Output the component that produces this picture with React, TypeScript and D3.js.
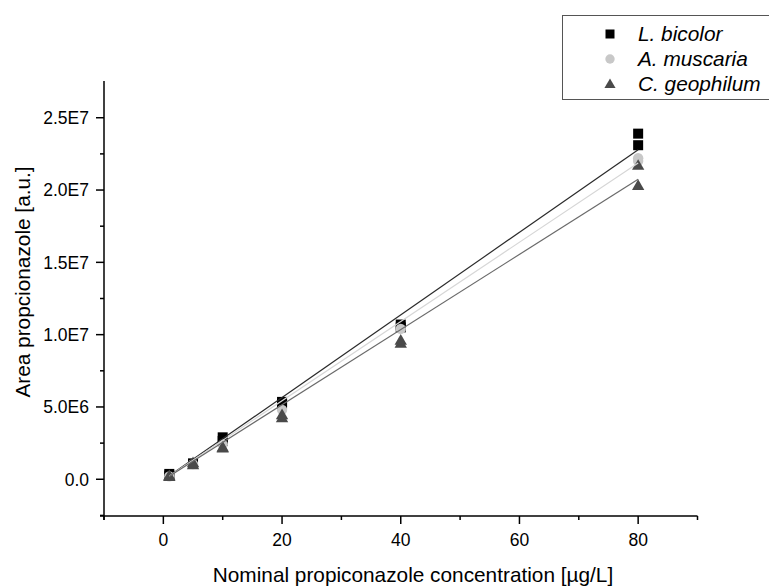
import React from "react";
import * as d3 from "d3";

// ---- data ----
const seriesNames = ["L. bicolor", "A. muscaria", "C. geophilum"];
const seriesColors = ["#000000", "#c8c8c8", "#4a4a4a"];
const lineColors = ["#2a2a2a", "#d6d6d6", "#6a6a6a"];
const seriesShapes = ["square", "circle", "triangle"];

const bicolorX = [1, 1, 5, 10, 10, 20, 20, 40, 40, 80, 80];
const bicolorY = [3.7e5, 2.6e5, 1.1e6, 2.9e6, 2.65e6, 5.35e6, 5.2e6, 1.07e7, 1.05e7, 2.39e7, 2.31e7];

const muscariaX = [1, 5, 10, 20, 40, 80, 80];
const muscariaY = [2.0e5, 1.05e6, 2.4e6, 4.8e6, 1.04e7, 2.22e7, 2.2e7];

const geophilumX = [1, 1, 5, 5, 10, 10, 20, 20, 40, 40, 80, 80];
const geophilumY = [2.3e5, 1.8e5, 1.13e6, 1.0e6, 2.15e6, 2.2e6, 4.25e6, 4.45e6, 9.4e6, 9.6e6, 2.17e7, 2.03e7];

// linear fits (slope per µg/L, intercept)
const fitSlope = [2.855e5, 2.74e5, 2.6e5];
const fitIntercept = [-5e4, -5e4, -5e4];
const fitRange = [1, 80];

const xTicks = [0, 20, 40, 60, 80];
const xMinor = [-10, 10, 30, 50, 70, 90];
const yTicks = [0, 5e6, 1e7, 1.5e7, 2e7, 2.5e7];
const yTickLabels = ["0.0", "5.0E6", "1.0E7", "1.5E7", "2.0E7", "2.5E7"];
const yMinor = [-2.5e6, 2.5e6, 7.5e6, 1.25e7, 1.75e7, 2.25e7];

const xTitle = "Nominal propiconazole concentration [µg/L]";
const yTitle = "Area propcionazole [a.u.]";

const FONT = "'Liberation Sans', Arial, Helvetica, sans-serif";

export default function App() {
  const W = 769;
  const H = 586;
  const x = d3.scaleLinear().domain([-10, 90]).range([104, 697.5]);
  const y = d3.scaleLinear().domain([-2.54e6, 2.754e7]).range([516, 81]);

  const seriesX = [bicolorX, muscariaX, geophilumX];
  const seriesY = [bicolorY, muscariaY, geophilumY];

  const marker = (shape: string, cx: number, cy: number, fill: string, key: string, s = 1) => {
    if (shape === "square") {
      const h = 5 * s;
      return <rect key={key} x={cx - h} y={cy - h} width={2 * h} height={2 * h} fill={fill} />;
    }
    if (shape === "circle") {
      return <circle key={key} cx={cx} cy={cy} r={5.2 * s} fill={fill} />;
    }
    const sym = d3.symbol().type(d3.symbolTriangle).size(66 * s * s)();
    return <path key={key} d={sym || ""} transform={`translate(${cx},${cy + 0.8})`} fill={fill} />;
  };

  return (
    <svg
      width={W}
      height={H}
      style={{ position: "absolute", left: 0, top: 0, background: "#fff" }}
      fontFamily={FONT}
    >
      <rect x={0} y={0} width={W} height={H} fill="#fff" />
      {/* markers */}
      {seriesX.map((xs, si) =>
        xs.map((xv, i) => marker(seriesShapes[si], x(xv), y(seriesY[si][i]), seriesColors[si], `m${si}-${i}`))
      )}
      {/* fit lines */}
      {fitSlope.map((m, si) => (
        <line
          key={`f${si}`}
          x1={x(fitRange[0])}
          y1={y(m * fitRange[0] + fitIntercept[si])}
          x2={x(fitRange[1])}
          y2={y(m * fitRange[1] + fitIntercept[si])}
          stroke={lineColors[si]}
          strokeWidth={1.2}
        />
      ))}
      {/* axes */}
      <g stroke="#000" strokeWidth={1.5} fill="none">
        <line x1={x.range()[0]} y1={y.range()[1]} x2={x.range()[0]} y2={y.range()[0] + 4} />
        <line x1={x.range()[0] - 4} y1={y.range()[0]} x2={x.range()[1]} y2={y.range()[0]} />
        {xTicks.map((t) => (
          <line key={`xt${t}`} x1={x(t)} x2={x(t)} y1={y.range()[0]} y2={y.range()[0] + 8} />
        ))}
        {xMinor.map((t) => (
          <line key={`xm${t}`} x1={x(t)} x2={x(t)} y1={y.range()[0]} y2={y.range()[0] + 4} />
        ))}
        {yTicks.map((t) => (
          <line key={`yt${t}`} x1={x.range()[0] - 8} x2={x.range()[0]} y1={y(t)} y2={y(t)} />
        ))}
        {yMinor.map((t) => (
          <line key={`ym${t}`} x1={x.range()[0] - 4} x2={x.range()[0]} y1={y(t)} y2={y(t)} />
        ))}
      </g>
      <g fontSize={17.5} fill="#000">
        {xTicks.map((t) => (
          <text key={`xl${t}`} x={x(t)} y={546} textAnchor="middle">
            {t}
          </text>
        ))}
        {yTicks.map((t, i) => (
          <text key={`yl${t}`} x={89} y={y(t)} dy="0.36em" textAnchor="end">
            {yTickLabels[i]}
          </text>
        ))}
      </g>
      <text x={413} y={582} textAnchor="middle" fontSize={20.8}>
        {xTitle}
      </text>
      <text
        transform={`translate(29.5,282) rotate(-90)`}
        textAnchor="middle"
        fontSize={20.8}
      >
        {yTitle}
      </text>
      {/* legend */}
      <rect x={562.5} y={15.5} width={220} height={84} fill="#fff" stroke="#555" strokeWidth={1} />
      {seriesNames.map((n, i) => (
        <g key={`lg${i}`}>
          {marker(seriesShapes[i], 610, 34 + i * 25, seriesColors[i], `lm${i}`, 0.9)}
          <text x={638} y={34 + i * 25} dy="0.36em" fontSize={20.8} fontStyle="italic">
            {n}
          </text>
        </g>
      ))}
    </svg>
  );
}
